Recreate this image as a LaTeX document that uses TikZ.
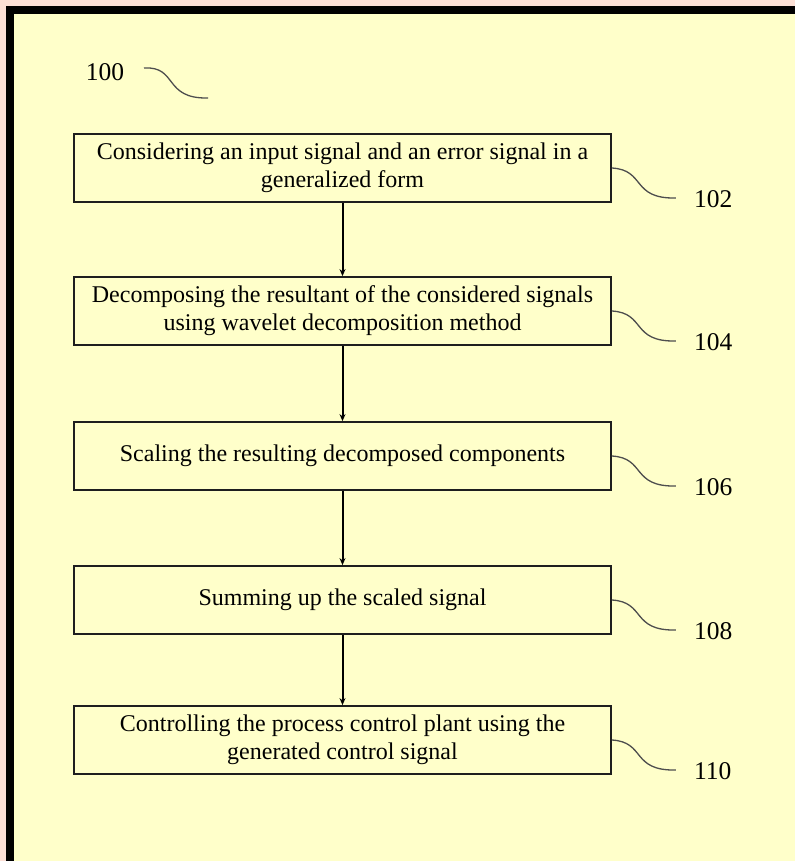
\documentclass[tikz,border=0pt]{standalone}
\usepackage{fontspec}
\setmainfont{Liberation Serif}
\usetikzlibrary{arrows.meta}
\definecolor{pagepink}{HTML}{FCE0D6}
\definecolor{paper}{HTML}{FFFFCA}
\definecolor{leadgray}{HTML}{4E4E4E}
\definecolor{boxline}{HTML}{1E1E1E}
\begin{document}
\begin{tikzpicture}[x=1pt,y=-1pt,
  stepbox/.style={draw=boxline, line width=1.8pt, fill=paper,
    minimum width=537pt, minimum height=68pt, inner sep=0pt,
    align=center, font=\fontsize{24}{28}\selectfont},
  flow/.style={draw=black, line width=2pt, -{Stealth[length=7pt,width=6pt]}},
  leader/.style={draw=leadgray, line width=1.3pt},
  reflabel/.style={font=\fontsize{25.5}{28}\selectfont, inner sep=0pt}]
% page, frame and paper
\fill[pagepink] (0,0) rectangle (795,861);
\fill[black] (6,6) rectangle (795,861);
\fill[paper] (14,14) rectangle (795,861);
\useasboundingbox (0,0) rectangle (795,861);

% figure reference
\node[reflabel] (r100) at (105,72) {100};
\coordinate (s100) at (144,68);
\coordinate (e100) at (208,98);
\draw[leader] (s100) .. controls (178,66) and (163,99) .. (e100);

% process steps
\node[stepbox] (b1) at (342.5,168) {Considering an input signal and an error signal in a\\generalized form};
\node[stepbox] (b2) at (342.5,311) {Decomposing the resultant of the considered signals\\using wavelet decomposition method};
\node[stepbox] (b3) at (342.5,456) {Scaling the resulting decomposed components};
\node[stepbox] (b4) at (342.5,600) {Summing up the scaled signal};
\node[stepbox] (b5) at (342.5,740) {Controlling the process control plant using the\\generated control signal};

% flow arrows
\draw[flow] (b1.south) -- (b2.north);
\draw[flow] (b2.south) -- (b3.north);
\draw[flow] (b3.south) -- (b4.north);
\draw[flow] (b4.south) -- (b5.north);

% reference numerals with leader lines
\foreach \b/\n in {b1/102, b2/104, b3/106, b4/108, b5/110}{
  \coordinate (e\n) at ([xshift=64pt,yshift=-30pt]\b.east);
  \draw[leader] (\b.east) .. controls +(34,2) and +(-45,1) .. (e\n);
  \node[reflabel, anchor=west] (r\n) at ([xshift=18pt,yshift=-1pt]e\n) {\n};
}
\end{tikzpicture}
\end{document}
